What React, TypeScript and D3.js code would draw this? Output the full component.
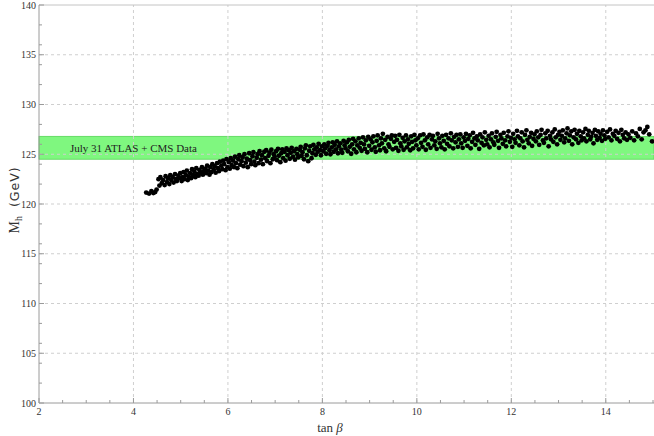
import React from "react";
import * as d3 from "d3";

const xTicks = [2, 4, 6, 8, 10, 12, 14];
const yTicks = [100, 105, 110, 115, 120, 125, 130, 135, 140];
const xGrid = [4, 6, 8, 10, 12, 14];
const yGrid = [105, 110, 115, 120, 125, 130, 135];
const bandRange = [124.5, 126.8];
const bandLabel = "July 31 ATLAS + CMS Data";

const points: [number, number][] = [
  [4.27,121.15],[4.33,121.05],[4.38,121.3],[4.42,121.1],[4.46,121.2],[4.49,121.45],[4.53,122.5],[4.57,122.7],[4.55,121.85],[4.6,122.1],
  [4.63,122.4],[4.66,121.9],[4.68,122.8],[4.71,122.2],[4.73,122.6],[4.76,122.0],[4.78,122.9],[4.8,122.4],[4.83,122.7],[4.85,122.15],[4.88,123.0],[4.9,122.5],[4.92,122.3],[4.95,122.85],[4.97,122.6],[4.99,123.1],
  [5.02,122.3],[5.04,122.7],[5.06,123.2],[5.08,122.5],[5.11,122.9],[5.13,123.35],[5.15,122.4],[5.17,122.75],[5.2,123.1],[5.22,122.6],[5.24,123.5],[5.26,122.9],[5.29,123.25],[5.31,122.7],[5.33,123.6],[5.35,123.0],[5.38,122.85],[5.4,123.4],[5.42,123.15],[5.45,123.7],[5.47,122.95],[5.49,123.3],
  [5.52,123.55],[5.54,123.1],[5.56,123.85],[5.58,123.35],[5.61,122.95],[5.63,123.7],[5.65,123.2],[5.67,124.0],[5.7,123.45],[5.72,123.8],[5.74,123.15],[5.77,124.1],[5.79,123.6],[5.81,123.3],[5.83,124.25],[5.86,123.85],[5.88,123.5],[5.9,124.35],[5.92,124.0],[5.95,123.4],[5.97,124.5],[5.99,123.7],
  [6.02,124.2],[6.04,123.55],[6.06,124.6],[6.08,123.9],[6.11,124.35],[6.13,123.7],[6.15,124.75],[6.17,124.1],[6.2,123.6],[6.22,124.5],[6.24,124.9],[6.26,123.95],[6.29,124.3],[6.31,124.7],[6.33,123.8],[6.35,125.0],[6.38,124.15],[6.4,124.55],[6.42,123.7],[6.45,125.1],[6.47,124.4],[6.49,124.0],
  [6.52,124.8],[6.54,125.2],[6.56,124.25],[6.58,123.9],[6.61,124.65],[6.63,125.0],[6.65,124.1],[6.67,125.3],[6.7,124.45],[6.72,124.9],[6.74,124.0],[6.77,125.25],[6.79,124.6],[6.81,125.4],[6.83,124.3],[6.86,124.85],[6.88,125.15],[6.9,124.1],[6.92,125.45],[6.95,124.5],[6.97,125.0],[6.99,124.75],
  [7.02,125.3],[7.04,124.4],[7.06,125.55],[7.08,124.85],[7.11,124.2],[7.13,125.1],[7.15,125.5],[7.17,124.6],[7.2,125.25],[7.22,124.35],[7.24,125.6],[7.26,124.9],[7.29,125.4],[7.31,124.55],[7.33,125.15],[7.35,125.65],[7.38,124.75],[7.4,125.3],[7.42,124.45],[7.45,125.55],[7.47,125.0],[7.49,124.7],
  [7.52,125.45],[7.54,125.75],[7.56,124.85],[7.58,125.2],[7.61,124.5],[7.63,125.6],[7.65,125.9],[7.67,124.9],[7.7,124.3],[7.72,125.35],[7.74,125.8],[7.77,124.6],[7.79,125.1],[7.81,125.95],[7.83,125.5],[7.86,124.95],[7.88,125.7],[7.9,125.25],[7.92,126.05],[7.95,125.4],[7.97,124.9],[7.99,125.8],
  [8.02,125.3],[8.04,126.0],[8.06,125.6],[8.08,125.05],[8.11,125.85],[8.13,126.15],[8.15,125.4],[8.17,125.0],[8.2,125.7],[8.22,126.2],[8.24,125.25],[8.26,125.95],[8.29,125.5],[8.31,126.3],[8.33,125.1],[8.35,125.8],[8.38,126.1],[8.4,125.45],[8.42,125.15],[8.45,126.35],[8.47,125.9],[8.49,125.6],
  [8.52,126.2],[8.54,125.3],[8.56,126.45],[8.58,125.75],[8.61,125.05],[8.63,126.0],[8.65,126.55],[8.67,125.5],[8.7,126.3],[8.72,125.2],[8.74,125.9],[8.77,126.6],[8.79,125.65],[8.81,126.15],[8.83,125.35],[8.86,126.7],[8.88,126.0],[8.9,125.55],[8.92,126.4],[8.95,125.2],[8.97,126.75],[8.99,125.85],
  [9.02,126.5],[9.04,125.45],[9.06,126.2],[9.08,126.8],[9.11,125.7],[9.13,125.25],[9.15,126.35],[9.17,126.9],[9.2,125.9],[9.22,125.4],[9.24,126.6],[9.26,126.1],[9.28,127.05],[9.31,125.6],[9.33,126.45],[9.35,125.3],[9.38,126.75],[9.4,126.0],[9.42,125.75],[9.45,126.55],[9.47,126.9],[9.49,125.5],
  [9.52,126.25],[9.54,126.85],[9.56,125.65],[9.58,126.45],[9.61,125.35],[9.63,126.95],[9.65,126.1],[9.67,125.8],[9.7,126.65],[9.72,125.45],[9.74,126.3],[9.77,126.9],[9.79,125.7],[9.81,126.5],[9.83,126.05],[9.86,125.4],[9.88,126.8],[9.9,126.25],[9.92,125.6],[9.95,126.95],[9.97,126.4],[9.99,125.9],
  [10.02,126.6],[10.04,125.5],[10.07,126.9],[10.09,126.15],[10.12,125.75],[10.14,127.0],[10.17,126.4],[10.19,125.45],[10.22,126.7],[10.24,126.0],[10.27,126.95],[10.29,125.65],[10.32,126.5],[10.34,126.85],[10.37,125.9],[10.39,126.3],[10.42,125.55],[10.44,127.05],[10.47,126.6],[10.49,126.1],
  [10.52,125.7],[10.54,126.85],[10.57,126.35],[10.59,125.5],[10.62,126.95],[10.64,126.05],[10.67,126.6],[10.69,125.8],[10.72,127.1],[10.74,126.4],[10.77,125.6],[10.79,126.75],[10.82,126.2],[10.84,126.95],[10.87,125.75],[10.89,126.5],[10.92,127.0],[10.94,126.1],[10.97,125.65],[10.99,126.7],
  [11.02,126.35],[11.04,127.05],[11.07,125.85],[11.09,126.55],[11.12,126.9],[11.14,125.6],[11.17,126.25],[11.19,127.15],[11.22,126.6],[11.24,125.95],[11.27,126.8],[11.29,126.4],[11.32,125.55],[11.34,127.0],[11.37,126.15],[11.39,126.7],[11.42,125.9],[11.44,127.2],[11.47,126.45],[11.49,126.0],
  [11.52,126.85],[11.54,125.7],[11.57,126.5],[11.59,127.1],[11.62,126.2],[11.64,125.95],[11.67,126.75],[11.69,127.25],[11.72,126.35],[11.74,125.65],[11.77,126.95],[11.79,126.6],[11.82,126.05],[11.84,127.15],[11.87,126.4],[11.89,125.8],[11.92,126.8],[11.94,127.3],[11.97,126.25],[11.99,126.65],
  [12.02,125.75],[12.04,127.05],[12.07,126.5],[12.09,126.15],[12.12,127.35],[12.14,126.8],[12.17,125.9],[12.19,126.6],[12.22,127.2],[12.24,126.3],[12.27,125.7],[12.29,126.95],[12.32,127.4],[12.34,126.45],[12.37,126.1],[12.39,126.75],[12.42,127.15],[12.44,125.85],[12.47,126.55],[12.49,127.0],
  [12.52,126.3],[12.54,127.3],[12.57,126.7],[12.59,125.95],[12.62,126.95],[12.64,127.45],[12.67,126.4],[12.69,126.15],[12.72,127.1],[12.74,126.6],[12.77,127.35],[12.79,125.8],[12.82,126.85],[12.84,126.5],[12.87,127.2],[12.89,126.25],[12.92,127.5],[12.94,126.7],[12.97,126.0],[12.99,126.95],
  [13.02,127.25],[13.04,126.45],[13.07,126.85],[13.09,127.4],[13.12,126.2],[13.14,126.6],[13.17,127.1],[13.19,127.6],[13.22,126.35],[13.24,126.9],[13.27,127.3],[13.29,126.0],[13.32,126.7],[13.34,127.45],[13.37,126.5],[13.39,127.05],[13.42,126.15],[13.44,127.35],[13.47,126.8],[13.49,126.4],
  [13.52,127.2],[13.54,126.6],[13.57,127.55],[13.59,126.3],[13.62,126.95],[13.64,127.35],[13.67,126.5],[13.69,126.75],[13.72,127.15],[13.74,126.1],[13.77,127.45],[13.79,126.85],[13.82,126.45],[13.84,127.3],[13.87,126.65],[13.89,127.05],[13.92,126.35],[13.94,127.4],[13.97,126.9],[13.99,126.55],
  [14.03,127.25],[14.06,126.7],[14.09,127.5],[14.12,126.4],[14.15,127.05],[14.18,126.85],[14.21,127.35],[14.24,126.55],[14.27,127.15],[14.3,126.3],[14.33,127.45],[14.36,126.95],[14.39,126.6],[14.42,127.2],[14.45,126.45],[14.48,127.0],
  [14.52,126.65],[14.56,127.3],[14.6,126.4],[14.64,127.1],[14.68,126.8],[14.72,127.55],[14.76,126.5],[14.8,127.2],[14.84,127.4],[14.88,127.75],[14.92,127.0],[14.98,126.3]
];

const W = 654;
const H = 436;

export default function App() {
  const x = d3.scaleLinear().domain([2, 15]).range([39, 653]);
  const y = d3.scaleLinear().domain([100, 140]).range([403, 5]);
  const xMinor = d3.range(2, 15.01, 0.5).filter((v) => !xTicks.includes(v));
  const yMinor = d3.range(100, 140.01, 2).filter((v) => !yTicks.includes(v));
  const axisColor = "#9a9a9a";
  const gridColor = "#cfcfcf";
  const serif = "'Liberation Serif', 'Times New Roman', serif";
  return (
    <svg width={W} height={H} style={{ position: "absolute", left: 0, top: 0, background: "#fff" }}>
      {/* band */}
      <rect
        x={x(2)}
        y={y(bandRange[1])}
        width={W - x(2)}
        height={y(bandRange[0]) - y(bandRange[1])}
        fill="rgb(0,240,0)"
        fillOpacity={0.5}
        stroke="#55d455"
        strokeWidth={0.8}
      />
      {/* grid */}
      {xGrid.map((v) => (
        <line key={"gx" + v} x1={x(v)} x2={x(v)} y1={y(100)} y2={y(140)} stroke={gridColor} strokeDasharray="3,3" strokeWidth={1} />
      ))}
      {yGrid.map((v) => (
        <line key={"gy" + v} x1={x(2)} x2={W} y1={y(v)} y2={y(v)} stroke={gridColor} strokeDasharray="3,3" strokeWidth={1} />
      ))}
      <line x1={x(2)} x2={W} y1={y(140)} y2={y(140)} stroke="#c4c4c4" strokeWidth={1} />
      <text x={70} y={151.5} fontFamily={serif} fontSize={11} fill="#222">
        {bandLabel}
      </text>
      {/* axes */}
      <line x1={x(2)} x2={x(2)} y1={y(100)} y2={y(140)} stroke={axisColor} strokeWidth={1} />
      <line x1={x(2)} x2={W} y1={y(100)} y2={y(100)} stroke={axisColor} strokeWidth={1} />
      {yTicks.map((v) => (
        <g key={"yt" + v}>
          <line x1={x(2)} x2={x(2) + 5} y1={y(v)} y2={y(v)} stroke={axisColor} />
          <text x={x(2) - 3} y={y(v) + 3.5} textAnchor="end" fontFamily={serif} fontSize={10} fill="#333">
            {v}
          </text>
        </g>
      ))}
      {yMinor.map((v) => (
        <line key={"ym" + v} x1={x(2)} x2={x(2) + 3} y1={y(v)} y2={y(v)} stroke={axisColor} />
      ))}
      {xTicks.map((v) => (
        <g key={"xt" + v}>
          <line x1={x(v)} x2={x(v)} y1={y(100)} y2={y(100) - 5} stroke={axisColor} />
          <text x={x(v)} y={y(100) + 12} textAnchor="middle" fontFamily={serif} fontSize={10} fill="#333">
            {v}
          </text>
        </g>
      ))}
      {xMinor.map((v) => (
        <line key={"xm" + v} x1={x(v)} x2={x(v)} y1={y(100)} y2={y(100) - 3} stroke={axisColor} />
      ))}
      {/* points */}
      {points.map((p, i) => (
        <circle key={i} cx={x(p[0])} cy={y(p[1])} r={2.4} fill="#000" />
      ))}
      {/* axis labels */}
      <text x={330} y={432} textAnchor="middle" fontFamily={serif} fontSize={13} fill="#333">
        tan <tspan fontStyle="italic">β</tspan>
      </text>
      <text transform="translate(19,200) rotate(-90)" textAnchor="middle" fill="#333">
        <tspan fontFamily={serif} fontSize={14}>M</tspan>
        <tspan fontFamily={serif} fontSize={10} dy={3}>h</tspan>
        <tspan fontFamily="'DejaVu Sans', sans-serif" fontSize={12.5} dy={-3} dx={9} letterSpacing={1}>(GeV)</tspan>
      </text>
    </svg>
  );
}
